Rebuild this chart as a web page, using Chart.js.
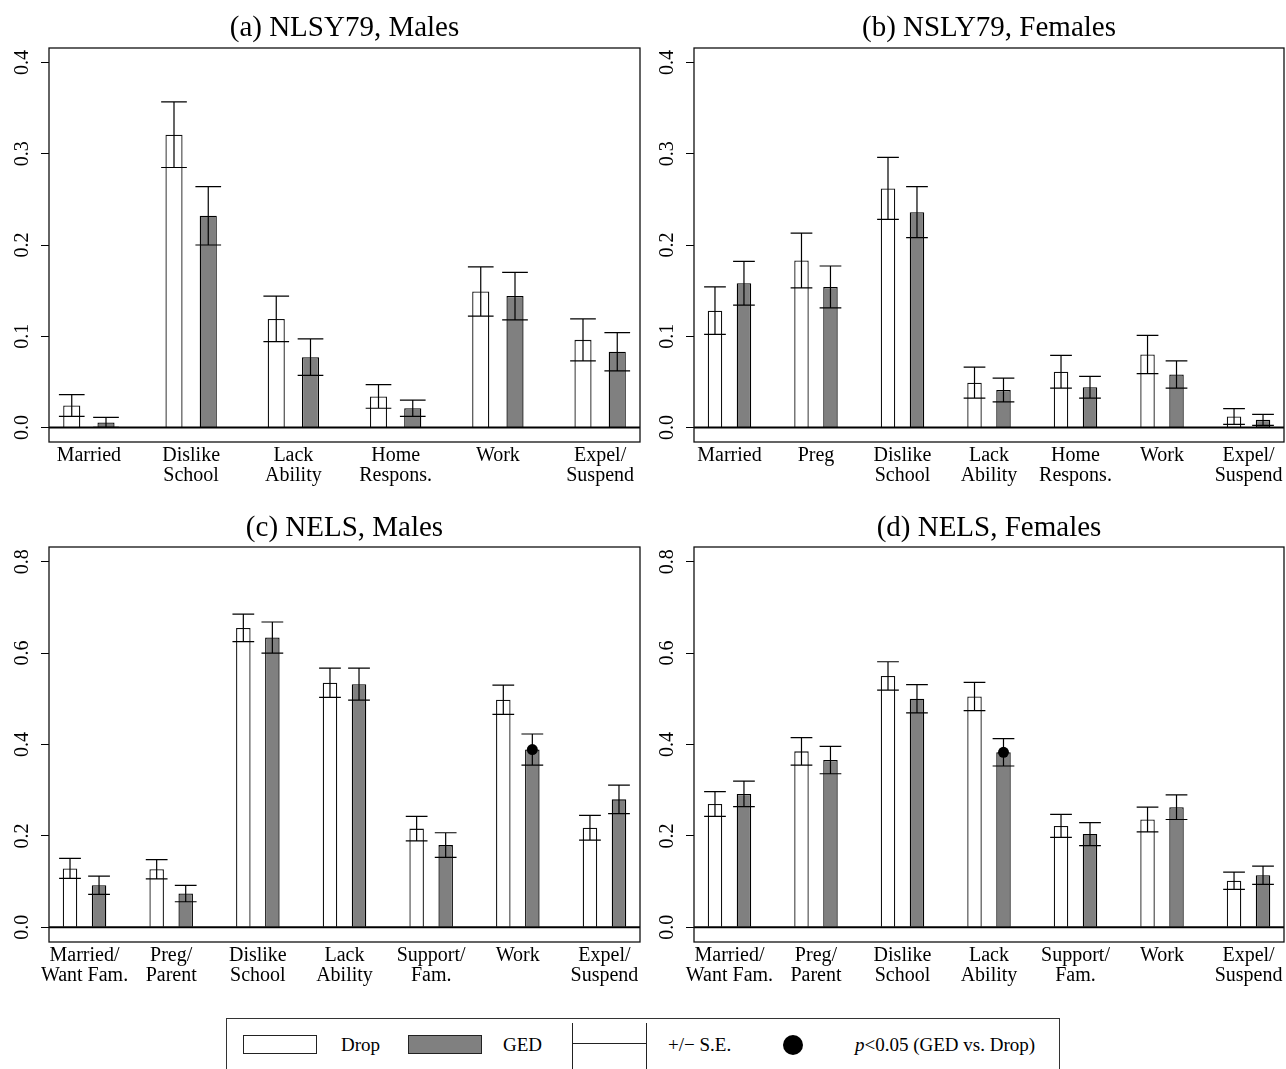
<!DOCTYPE html>
<html>
<head>
<meta charset="utf-8">
<title>Reasons for leaving school: dropouts vs. GED recipients</title>
<script src="https://cdn.jsdelivr.net/npm/chart.js@4.4.1/dist/chart.umd.min.js"></script>
<style>
  html, body { margin: 0; padding: 0; background: #fff; }
  body { width: 1286px; height: 1069px; position: relative; overflow: hidden;
         font-family: "Liberation Serif", "Times New Roman", serif; color: #000; }
  .panel { position: absolute; width: 643px; height: 500px; }
  #legend { position: absolute; left: 226px; top: 1018px; width: 834px; height: 90px;
            border: 1px solid #333; box-sizing: border-box; }
  #legend .it { position: absolute; }
  #legend .txt { font-size: 19px; line-height: 19px; white-space: nowrap; top: 16px; }
  #legend .sw { width: 74px; height: 19px; box-sizing: border-box; border: 1px solid #222; top: 16px; }
  #legend .vl { width: 1px; background: #222; top: 4px; height: 80px; }
  #legend .hl { height: 1px; background: #222; top: 24px; }
  #legend .dot { width: 20px; height: 20px; border-radius: 50%; background: #000; top: 16px; }
</style>
</head>
<body>
<canvas id="pa" class="panel" width="643" height="500" style="left:0;top:0"></canvas>
<canvas id="pb" class="panel" width="643" height="500" style="left:643px;top:0"></canvas>
<canvas id="pc" class="panel" width="643" height="500" style="left:0;top:500px"></canvas>
<canvas id="pd" class="panel" width="643" height="500" style="left:643px;top:500px"></canvas>

<div id="legend">
  <div class="it sw" style="left:16px;background:#fff"></div>
  <div class="it txt" style="left:114px">Drop</div>
  <div class="it sw" style="left:181px;background:#808080"></div>
  <div class="it txt" style="left:276px">GED</div>
  <div class="it vl" style="left:345px"></div>
  <div class="it hl" style="left:345px;width:74px"></div>
  <div class="it vl" style="left:419px"></div>
  <div class="it txt" style="left:441px">+/− S.E.</div>
  <div class="it dot" style="left:556px"></div>
  <div class="it txt" style="left:628px"><i>p</i>&lt;0.05 (GED vs. Drop)</div>
</div>

<script>
// ---- (a) NLSY79, Males ----
const catsNlsyMale = [['Married'], ['Dislike', 'School'], ['Lack', 'Ability'], ['Home', 'Respons.'], ['Work'], ['Expel/', 'Suspend']];
const dropNlsyMale   = [0.024, 0.321, 0.119, 0.034, 0.149, 0.096];
const dropSeNlsyMale = [0.012, 0.036, 0.025, 0.013, 0.027, 0.023];
const gedNlsyMale    = [0.0055, 0.232, 0.077, 0.021, 0.144, 0.083];
const gedSeNlsyMale  = [0.0055, 0.032, 0.020, 0.009, 0.026, 0.021];
const sigNlsyMale    = [false, false, false, false, false, false];

// ---- (b) NSLY79, Females ----
const catsNlsyFemale = [['Married'], ['Preg'], ['Dislike', 'School'], ['Lack', 'Ability'], ['Home', 'Respons.'], ['Work'], ['Expel/', 'Suspend']];
const dropNlsyFemale   = [0.128, 0.183, 0.262, 0.049, 0.061, 0.080, 0.012];
const dropSeNlsyFemale = [0.026, 0.030, 0.034, 0.017, 0.018, 0.021, 0.0087];
const gedNlsyFemale    = [0.158, 0.154, 0.236, 0.041, 0.044, 0.058, 0.0083];
const gedSeNlsyFemale  = [0.024, 0.023, 0.028, 0.013, 0.012, 0.015, 0.006];
const sigNlsyFemale    = [false, false, false, false, false, false, false];

// ---- (c) NELS, Males ----
const catsNels = [['Married/', 'Want Fam.'], ['Preg/', 'Parent'], ['Dislike', 'School'], ['Lack', 'Ability'], ['Support/', 'Fam.'], ['Work'], ['Expel/', 'Suspend']];
const dropNelsMale   = [0.129, 0.127, 0.655, 0.535, 0.216, 0.498, 0.218];
const dropSeNelsMale = [0.022, 0.021, 0.030, 0.032, 0.027, 0.032, 0.027];
const gedNelsMale    = [0.092, 0.074, 0.634, 0.532, 0.180, 0.389, 0.280];
const gedSeNelsMale  = [0.020, 0.018, 0.034, 0.035, 0.027, 0.034, 0.031];
const sigNelsMale    = [false, false, false, false, false, true, false];

// ---- (d) NELS, Females ----
const dropNelsFemale   = [0.270, 0.385, 0.550, 0.505, 0.222, 0.236, 0.102];
const dropSeNelsFemale = [0.027, 0.030, 0.031, 0.031, 0.025, 0.027, 0.019];
const gedNelsFemale    = [0.292, 0.366, 0.500, 0.383, 0.204, 0.263, 0.114];
const gedSeNelsFemale  = [0.028, 0.030, 0.031, 0.030, 0.025, 0.027, 0.020];
const sigNelsFemale    = [false, false, false, true, false, false, false];

// y-axis ticks for the two survey scales
const yTicksNlsy = [0.0, 0.1, 0.2, 0.3, 0.4];
const yTicksNels = [0.0, 0.2, 0.4, 0.6, 0.8];

const FONT = '"Liberation Serif", "Times New Roman", serif';

// Zero line, error bars, significance dots, frame and panel title
const panelDecor = {
  id: 'panelDecor',
  afterDatasetsDraw(chart, args, opts) {
    const ctx = chart.ctx, area = chart.chartArea, ys = chart.scales.y;
    ctx.save();
    ctx.lineCap = 'butt';

    const y0 = ys.getPixelForValue(0);
    ctx.strokeStyle = '#000';
    ctx.lineWidth = 2;
    ctx.beginPath();
    ctx.moveTo(area.left, y0);
    ctx.lineTo(area.right, y0);
    ctx.stroke();

    chart.data.datasets.forEach((ds, di) => {
      const meta = chart.getDatasetMeta(di);
      meta.data.forEach((bar, i) => {
        const v = ds.data[i].y, se = ds.se[i];
        const yl = ys.getPixelForValue(v - se);
        const yu = ys.getPixelForValue(v + se);
        const half = bar.width * 0.75;
        ctx.strokeStyle = '#000';
        ctx.lineWidth = 1.2;
        ctx.beginPath();
        ctx.moveTo(bar.x, yl); ctx.lineTo(bar.x, yu);
        ctx.moveTo(bar.x - half, yu); ctx.lineTo(bar.x + half, yu);
        ctx.moveTo(bar.x - half, yl); ctx.lineTo(bar.x + half, yl);
        ctx.stroke();
        if (ds.sig && ds.sig[i]) {
          ctx.fillStyle = '#000';
          ctx.beginPath();
          ctx.arc(bar.x, ys.getPixelForValue(v), 5.5, 0, Math.PI * 2);
          ctx.fill();
        }
      });
    });

    ctx.strokeStyle = '#111';
    ctx.lineWidth = 1.3;
    ctx.strokeRect(area.left, area.top, area.right - area.left, area.bottom - area.top);

    ctx.fillStyle = '#000';
    ctx.font = '29px ' + FONT;
    ctx.textAlign = 'center';
    ctx.textBaseline = 'alphabetic';
    ctx.fillText(opts.text, (area.left + area.right) / 2, opts.baseline);
    ctx.restore();
  }
};

function makePanel(id, title, cats, drop, dropSe, ged, gedSe, sig, yTicks, layout) {
  const yMax = yTicks[yTicks.length - 1];
  new Chart(document.getElementById(id), {
    type: 'bar',
    data: {
      datasets: [
        { label: 'Drop', data: drop.map((v, i) => ({ x: i, y: v })), se: dropSe,
          backgroundColor: '#ffffff', borderColor: '#111', borderWidth: 1.3 },
        { label: 'GED', data: ged.map((v, i) => ({ x: i, y: v })), se: gedSe, sig: sig,
          backgroundColor: '#808080', borderColor: '#000', borderWidth: 1.3 }
      ]
    },
    options: {
      responsive: false,
      animation: false,
      devicePixelRatio: 1,
      categoryPercentage: 0.67,
      barPercentage: 0.5,
      layout: { padding: { left: 0, top: layout.top, right: layout.right, bottom: 0 } },
      plugins: {
        legend: { display: false },
        tooltip: { enabled: false },
        panelDecor: { text: title, baseline: layout.titleBaseline }
      },
      scales: {
        x: {
          type: 'linear',
          min: -layout.xPad,
          max: cats.length - 1 + layout.xPad,
          offset: false,
          grid: { display: false, drawTicks: false },
          border: { display: false },
          afterBuildTicks: s => { s.ticks = cats.map((c, i) => ({ value: i })); },
          afterFit: s => { s.height = layout.xAxisH; },
          ticks: {
            autoSkip: false, maxRotation: 0, minRotation: 0, padding: 3,
            color: '#000', font: { family: FONT, size: 20, lineHeight: 1.03 },
            callback: v => cats[v]
          }
        },
        y: {
          min: -0.04 * yMax,
          max: 1.04 * yMax,
          grid: { drawOnChartArea: false, drawTicks: true, tickLength: 8, color: '#000', lineWidth: 1 },
          border: { display: false },
          afterBuildTicks: s => { s.ticks = yTicks.map(v => ({ value: v })); },
          afterFit: s => { s.width = layout.yAxisW; },
          ticks: {
            minRotation: 90, maxRotation: 90, crossAlign: 'center', padding: 6,
            color: '#000', font: { family: FONT, size: 20 },
            callback: v => v.toFixed(1)
          }
        }
      }
    },
    plugins: [panelDecor]
  });
}

makePanel('pa', '(a) NLSY79, Males', catsNlsyMale, dropNlsyMale, dropSeNlsyMale, gedNlsyMale, gedSeNlsyMale, sigNlsyMale, yTicksNlsy,
  { top: 48, right: 3, yAxisW: 49, xAxisH: 58, xPad: 0.39, titleBaseline: 36 });
makePanel('pb', '(b) NSLY79, Females', catsNlsyFemale, dropNlsyFemale, dropSeNlsyFemale, gedNlsyFemale, gedSeNlsyFemale, sigNlsyFemale, yTicksNlsy,
  { top: 48, right: 2, yAxisW: 51, xAxisH: 58, xPad: 0.41, titleBaseline: 36 });
makePanel('pc', '(c) NELS, Males', catsNels, dropNelsMale, dropSeNelsMale, gedNelsMale, gedSeNelsMale, sigNelsMale, yTicksNels,
  { top: 47, right: 3, yAxisW: 49, xAxisH: 58, xPad: 0.41, titleBaseline: 35.5 });
makePanel('pd', '(d) NELS, Females', catsNels, dropNelsFemale, dropSeNelsFemale, gedNelsFemale, gedSeNelsFemale, sigNelsFemale, yTicksNels,
  { top: 47, right: 2, yAxisW: 51, xAxisH: 58, xPad: 0.41, titleBaseline: 35.5 });
</script>
</body>
</html>
